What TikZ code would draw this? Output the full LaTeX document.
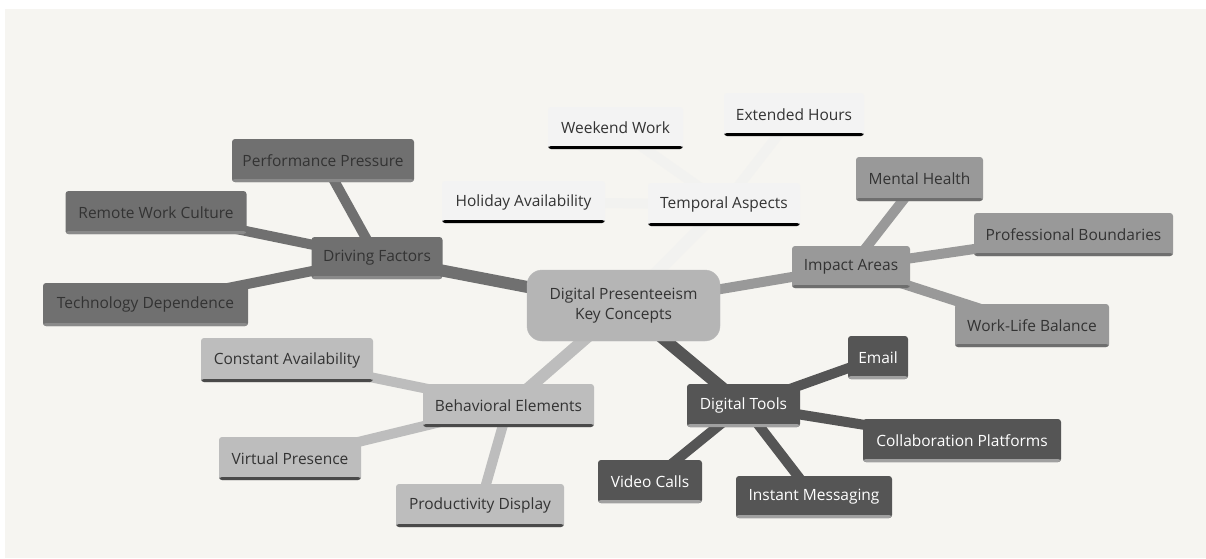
\documentclass[tikz,border=0pt]{standalone}
\usepackage{fontspec}
\setmainfont{Open Sans}
\begin{document}
\begin{tikzpicture}[x=1pt,y=-1pt,
  every node/.style={font=\fontsize{15.5}{19.5}\selectfont, inner sep=0pt, rounded corners=3pt},
  base/.style={path picture={\fill[#1] ([yshift=3pt]path picture bounding box.south west) rectangle (path picture bounding box.south east);}},
  dfnode/.style={fill=dfc, text=txt, base=dfb},
  ianode/.style={fill=iac, text=txt, base=iab},
  benode/.style={fill=bec, text=txt, base=beb},
  dtnode/.style={fill=dtc, text=white, base=dtb},
  tanode/.style={fill=tac, text=txt, base=black},
  dfline/.style={draw=dfc, line width=10pt},
  ialine/.style={draw=iac, line width=10pt},
  beline/.style={draw=bec, line width=10pt},
  dtline/.style={draw=dtc, line width=10pt},
  taline/.style={draw=tal, line width=10pt},
]
\definecolor{bgc}{HTML}{F6F5F1}
\definecolor{txt}{HTML}{333333}
\definecolor{dfc}{HTML}{707070}
\definecolor{dfb}{HTML}{8A8A8A}
\definecolor{iac}{HTML}{999999}
\definecolor{iab}{HTML}{6E6E6E}
\definecolor{bec}{HTML}{BDBDBD}
\definecolor{beb}{HTML}{4A4A4A}
\definecolor{dtc}{HTML}{555555}
\definecolor{dtb}{HTML}{A0A0A0}
\definecolor{tac}{HTML}{F3F3F3}
\definecolor{tal}{HTML}{F2F2F0}
\definecolor{cc}{HTML}{B5B5B5}

\useasboundingbox (0,0) rectangle (1206,558);
\fill[white] (0,0) rectangle (1206,558);
\fill[bgc] (5,9) rectangle (1206,558);

% coordinates for nodes
\coordinate (cC) at (623.5,305.5);
\coordinate (cDF) at (377,258);
\coordinate (cPP) at (323,160.5);
\coordinate (cRW) at (156,212.5);
\coordinate (cTD) at (145.5,304.5);
\coordinate (cWW) at (615.5,128);
\coordinate (cEH) at (794,114.5);
\coordinate (cHA) at (523.5,202);
\coordinate (cTA) at (724,204.5);
\coordinate (cIA) at (851,267);
\coordinate (cMH) at (919.5,179);
\coordinate (cPB) at (1073.5,234.5);
\coordinate (cWL) at (1032,325.5);
\coordinate (cBE) at (508.5,405.5);
\coordinate (cCA) at (287,360);
\coordinate (cVP) at (290,458.5);
\coordinate (cPD) at (480,505.5);
\coordinate (cDT) at (743.5,405.5);
\coordinate (cEM) at (878,357.5);
\coordinate (cCP) at (962,440.5);
\coordinate (cVC) at (650,481.5);
\coordinate (cIM) at (814,497);

% connectors
\draw[taline,line width=12pt] (cC) -- (cTA);
\draw[taline] (cTA) -- (cWW);
\draw[taline] (cTA) -- (cEH);
\draw[taline] (cTA) -- (cHA);
\draw[dfline,line width=12pt] (cC) -- (cDF);
\draw[dfline] (cDF) -- (cPP);
\draw[dfline] (cDF) -- (cRW);
\draw[dfline] (cDF) -- (cTD);
\draw[ialine] (cC) -- (cIA);
\draw[ialine] (cIA) -- (cMH);
\draw[ialine] (cIA) -- (cPB);
\draw[ialine] (cIA) -- (cWL);
\draw[beline,line width=12pt] (cC) -- (cBE);
\draw[beline] (cBE) -- (cCA);
\draw[beline] (cBE) -- (cVP);
\draw[beline] (cBE) -- (cPD);
\draw[dtline,line width=12pt] (cC) -- (cDT);
\draw[dtline] (cDT) -- (cEM);
\draw[dtline] (cDT) -- (cCP);
\draw[dtline] (cDT) -- (cVC);
\draw[dtline] (cDT) -- (cIM);

% nodes
\node[fill=cc, draw=cc!90!white, text=txt, rounded corners=15pt, minimum width=193pt, minimum height=71pt, align=center] (C) at (cC) {Digital Presenteeism\\Key Concepts};

\node[dfnode, minimum width=131pt, minimum height=42pt] (DF) at (cDF) {Driving Factors};
\node[dfnode, minimum width=182pt, minimum height=43pt] (PP) at (cPP) {Performance Pressure};
\node[dfnode, minimum width=181pt, minimum height=43pt] (RW) at (cRW) {Remote Work Culture};
\node[dfnode, minimum width=205pt, minimum height=43pt] (TD) at (cTD) {Technology Dependence};

\node[tanode, minimum width=135pt, minimum height=42pt] (WW) at (cWW) {Weekend Work};
\node[tanode, minimum width=140pt, minimum height=43pt] (EH) at (cEH) {Extended Hours};
\node[tanode, minimum width=163pt, minimum height=42pt] (HA) at (cHA) {Holiday Availability};
\node[tanode, minimum width=152pt, minimum height=43pt] (TA) at (cTA) {Temporal Aspects};

\node[ianode, minimum width=118pt, minimum height=42pt] (IA) at (cIA) {Impact Areas};
\node[ianode, minimum width=127pt, minimum height=44pt] (MH) at (cMH) {Mental Health};
\node[ianode, minimum width=199pt, minimum height=43pt] (PB) at (cPB) {Professional Boundaries};
\node[ianode, minimum width=154pt, minimum height=43pt] (WL) at (cWL) {Work-Life Balance};

\node[benode, minimum width=171pt, minimum height=43pt] (BE) at (cBE) {Behavioral Elements};
\node[benode, minimum width=172pt, minimum height=44pt] (CA) at (cCA) {Constant Availability};
\node[benode, minimum width=142pt, minimum height=43pt] (VP) at (cVP) {Virtual Presence};
\node[benode, minimum width=168pt, minimum height=43pt] (PD) at (cPD) {Productivity Display};

\node[dtnode, minimum width=113pt, minimum height=43pt] (DT) at (cDT) {Digital Tools};
\node[dtnode, minimum width=60pt, minimum height=43pt] (EM) at (cEM) {Email};
\node[dtnode, minimum width=198pt, minimum height=43pt] (CP) at (cCP) {Collaboration Platforms};
\node[dtnode, minimum width=104pt, minimum height=43pt] (VC) at (cVC) {Video Calls};
\node[dtnode, minimum width=156pt, minimum height=42pt] (IM) at (cIM) {Instant Messaging};
\end{tikzpicture}
\end{document}
